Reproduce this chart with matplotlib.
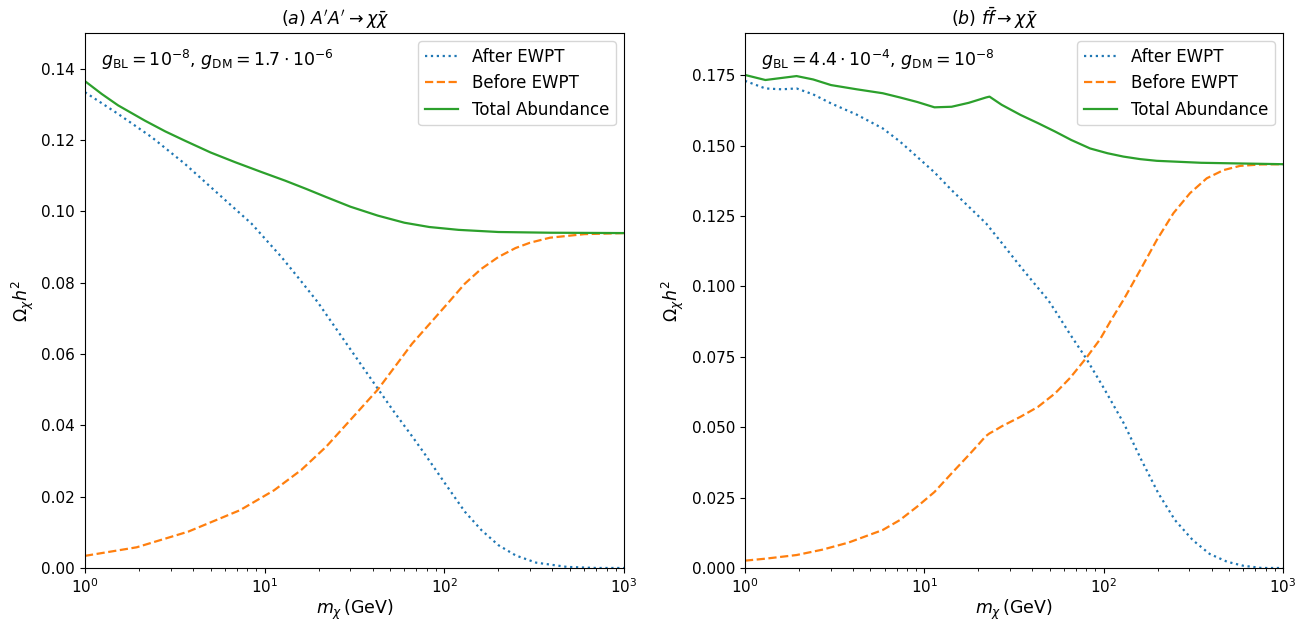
import numpy as np
import matplotlib
matplotlib.use('Agg')
import matplotlib.pyplot as plt

# panel (a): A'A' -> chi chibar
m_tot_a = [1, 1.24, 1.53, 2.16, 2.8, 3.6, 5, 6.83, 9.5, 13, 17, 22, 30, 42.6, 60, 82.5, 120, 200, 387, 1000]
tot_a = [0.1365, 0.1329, 0.1297, 0.1254, 0.1224, 0.1198, 0.1165, 0.1138, 0.1111, 0.1086, 0.1063, 0.1040, 0.1013, 0.0988, 0.0968, 0.0956, 0.0948, 0.0942, 0.0940, 0.0939]

m_aft_a = [1, 1.53, 2.35, 3.6, 5.52, 8.47, 12.4, 15.5, 19.7, 28, 42.6, 53, 66, 76.5, 101.6, 130, 161, 200, 250, 324, 482, 700, 1000]
aft_a = [0.1334, 0.1273, 0.1208, 0.1133, 0.1049, 0.0965, 0.0872, 0.0812, 0.0746, 0.0635, 0.0503, 0.0435, 0.0370, 0.0325, 0.0235, 0.0158, 0.0106, 0.0064, 0.0035, 0.0015, 0.0003, 0.0, 0.0]

m_bef_a = [1, 1.94, 3.76, 7.29, 11.3, 16, 22, 30, 42.6, 66.2, 90, 107, 130, 160, 200, 249, 300, 387, 601, 1000]
bef_a = [0.0034, 0.0058, 0.0102, 0.0162, 0.0218, 0.0275, 0.0340, 0.0415, 0.0500, 0.0629, 0.0705, 0.0748, 0.0797, 0.0838, 0.0872, 0.0897, 0.0912, 0.0926, 0.0936, 0.0939]

# panel (b): f fbar -> chi chibar
m_tot_b = [1, 1.3, 1.94, 2.4, 3.02, 4.2, 5.87, 7.32, 9.13, 11.4, 14.2, 17.7, 22.1, 23.1, 27, 34.4, 43, 53.6, 66, 84, 105, 129, 160, 198, 350, 1000]
tot_b = [0.1751, 0.1733, 0.1747, 0.1735, 0.1715, 0.1700, 0.1686, 0.1671, 0.1655, 0.1636, 0.1638, 0.1652, 0.1671, 0.1674, 0.1645, 0.1609, 0.1580, 0.1550, 0.1520, 0.1490, 0.1473, 0.1461, 0.1452, 0.1446, 0.1439, 0.1434]

m_aft_b = [1, 1.3, 1.6, 1.94, 2.4, 3.02, 4.2, 5.87, 7.3, 9.13, 11.4, 14.2, 17.7, 22.1, 27, 34.4, 43, 49, 54.8, 65, 79.8, 100, 130, 162, 202, 250, 314, 390, 489, 600, 760, 1000]
aft_b = [0.1730, 0.1703, 0.1700, 0.1703, 0.1682, 0.1650, 0.1610, 0.1561, 0.1515, 0.1460, 0.1405, 0.1342, 0.1283, 0.1224, 0.1155, 0.1070, 0.0995, 0.0952, 0.0905, 0.0830, 0.0745, 0.0640, 0.0512, 0.0385, 0.0265, 0.0170, 0.0099, 0.0050, 0.0022, 0.0008, 0.0, 0.0]

m_bef_b = [1, 1.3, 1.94, 2.7, 3.77, 5.87, 7.3, 9.13, 11.4, 14.2, 17.7, 20, 22, 23.1, 25, 27, 34.4, 43, 53.6, 65, 79.8, 95.5, 110, 129, 160, 198, 245, 303, 376, 466, 576, 750, 1000]
bef_b = [0.0026, 0.0033, 0.0046, 0.0065, 0.0090, 0.0135, 0.0170, 0.0218, 0.0270, 0.0336, 0.0401, 0.0438, 0.0468, 0.0478, 0.0490, 0.0503, 0.0537, 0.0572, 0.0620, 0.0675, 0.0745, 0.0812, 0.0880, 0.0952, 0.1058, 0.1165, 0.1260, 0.1331, 0.1384, 0.1413, 0.1428, 0.1433, 0.1434]

titles = [r"$(a)\ A'A' \to \chi\bar{\chi}$", r"$(b)\ f\bar{f} \to \chi\bar{\chi}$"]
notes = [r"$g_{\rm BL} = 10^{-8}$, $g_{\rm DM} = 1.7\cdot10^{-6}$",
         r"$g_{\rm BL} = 4.4\cdot10^{-4}$, $g_{\rm DM} = 10^{-8}$"]
ylims = [0.15, 0.19]
ytick_fmt = ['{:.2f}', '{:.3f}']
yticks = [np.arange(0, 0.141, 0.02), np.arange(0, 0.176, 0.025)]

data = [(m_aft_a, aft_a, m_bef_a, bef_a, m_tot_a, tot_a),
        (m_aft_b, aft_b, m_bef_b, bef_b, m_tot_b, tot_b)]

fig = plt.figure(figsize=(13.09, 6.2), dpi=100)
axes = [fig.add_axes([0.0649, 0.0839, 0.4118, 0.8629]),
        fig.add_axes([0.5691, 0.0839, 0.4110, 0.8629])]

for i, ax in enumerate(axes):
    ma, a, mb, b, mt, t = data[i]
    ax.plot(ma, a, ':', color='tab:blue', lw=1.6, label='After EWPT')
    ax.plot(mb, b, '--', color='tab:orange', lw=1.6, label='Before EWPT')
    ax.plot(mt, t, '-', color='tab:green', lw=1.6, label='Total Abundance')
    ax.set_xscale('log')
    ax.set_xlim(1, 1000)
    ax.set_ylim(0, ylims[i])
    ax.set_yticks(yticks[i])
    ax.set_yticklabels([ytick_fmt[i].format(v) for v in yticks[i]])
    ax.tick_params(labelsize=11)
    ax.set_title(titles[i], fontsize=12.5, x=0.464)
    ax.set_xlabel(r'$m_{\chi}\,$(GeV)', fontsize=12.5, labelpad=1)
    ax.set_ylabel(r'$\Omega_{\chi} h^2$', fontsize=12.5)
    ax.text(0.03, 0.95, notes[i], transform=ax.transAxes, fontsize=12.5, va='center')
    ax.legend(loc='upper right', fontsize=12)

fig.savefig('out.png', dpi=100)
